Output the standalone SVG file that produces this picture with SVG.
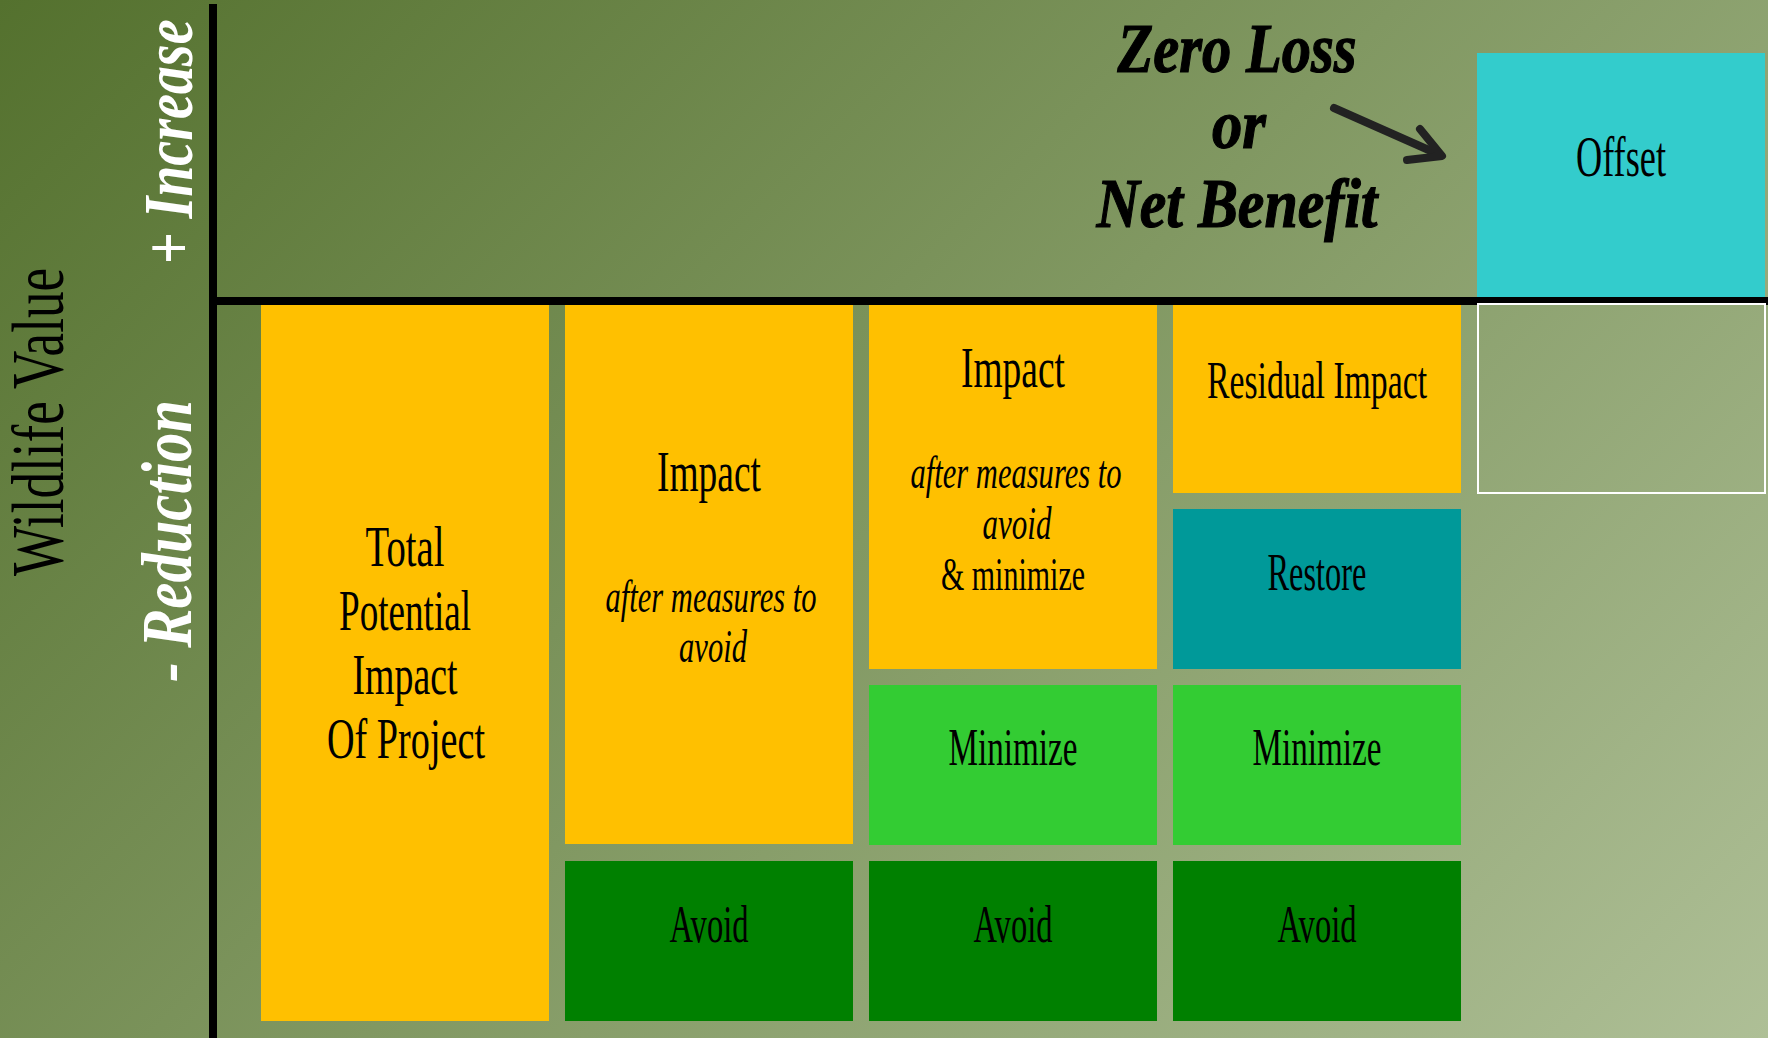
<svg xmlns="http://www.w3.org/2000/svg" width="1768" height="1038" viewBox="0 0 1768 1038">
<defs>
<linearGradient id="bg" gradientUnits="userSpaceOnUse" x1="0" y1="0" x2="1403" y2="1403">
<stop offset="0" stop-color="#54712e"/>
<stop offset="1" stop-color="#aebf96"/>
</linearGradient>
<style>
.t{font-family:"Liberation Serif","Times New Roman",serif;fill:#000;text-anchor:middle;}
.big{font-size:58px;}
.mid{font-size:52px;}
.it{font-size:46px;font-style:italic;}
.sm{font-size:46px;}
.bi{font-family:"Liberation Serif","Times New Roman",serif;font-weight:bold;font-style:italic;text-anchor:middle;}
.yel{fill:#FFC000;}
.dg{fill:#008000;}
.lg{fill:#33CC33;}
.teal{fill:#009999;}
.cyan{fill:#33CCCC;}
.axis{stroke:#000;stroke-width:8;fill:none;}
</style>
</defs>
<rect x="0" y="0" width="1768" height="1038" fill="url(#bg)"/>

<g id="axes">
<line class="axis" x1="213" y1="4" x2="213" y2="1038"/>
<line class="axis" x1="209" y1="301" x2="1768" y2="301"/>
</g>

<g id="axis-labels">
<text class="t" transform="translate(63,422) rotate(-90)" font-size="74" textLength="308" lengthAdjust="spacingAndGlyphs">Wildlife Value</text>
<text class="bi" transform="translate(191,541) rotate(-90)" font-size="72" fill="#fff" textLength="282" lengthAdjust="spacingAndGlyphs">- Reduction</text>
<text class="bi" transform="translate(192,142) rotate(-90) scale(0.8,1)" font-size="70" fill="#fff">+  Increase</text>
</g>

<g id="goal-label">
<text class="bi" x="1237" y="72" font-size="70" fill="#000" stroke="#000" stroke-width="1.2" textLength="239" lengthAdjust="spacingAndGlyphs">Zero Loss</text>
<text class="bi" x="1239" y="148" font-size="70" fill="#000" stroke="#000" stroke-width="1.2" textLength="54" lengthAdjust="spacingAndGlyphs">or</text>
<text class="bi" x="1237" y="227" font-size="70" fill="#000" stroke="#000" stroke-width="1.2" textLength="281" lengthAdjust="spacingAndGlyphs">Net Benefit</text>
</g>

<g id="connectors">
<line x1="1334" y1="108" x2="1440" y2="155" stroke="#222" stroke-width="8" stroke-linecap="round"/>
<polyline points="1420,129 1442,156 1407,160" fill="none" stroke="#222" stroke-width="8" stroke-linecap="round" stroke-linejoin="round"/>
</g>

<g id="offset">
<rect class="cyan" x="1477" y="53" width="288" height="244"/>
<text class="t big" x="1621" y="176" textLength="90" lengthAdjust="spacingAndGlyphs">Offset</text>
</g>

<g id="offset-placeholder">
<rect x="1478" y="304" width="287" height="189" fill="none" stroke="#fff" stroke-width="2"/>
</g>

<g id="total-impact">
<rect class="yel" x="261" y="305" width="288" height="716"/>
<text class="t big" x="405" y="566" textLength="79" lengthAdjust="spacingAndGlyphs">Total</text>
<text class="t big" x="405" y="630" textLength="132" lengthAdjust="spacingAndGlyphs">Potential</text>
<text class="t big" x="405" y="694" textLength="105" lengthAdjust="spacingAndGlyphs">Impact</text>
<text class="t big" x="406" y="758" textLength="158" lengthAdjust="spacingAndGlyphs">Of Project</text>
</g>

<g id="impact-after-avoid">
<rect class="yel" x="565" y="305" width="288" height="539"/>
<text class="t big" x="709" y="491" textLength="104" lengthAdjust="spacingAndGlyphs">Impact</text>
<text class="t it" x="711" y="612" textLength="211" lengthAdjust="spacingAndGlyphs">after measures to</text>
<text class="t it" x="713" y="662" textLength="68" lengthAdjust="spacingAndGlyphs">avoid</text>
</g>

<g id="avoid-1">
<rect class="dg" x="565" y="861" width="288" height="160"/>
<text class="t mid" x="709" y="942" textLength="79" lengthAdjust="spacingAndGlyphs">Avoid</text>
</g>

<g id="impact-after-avoid-minimize">
<rect class="yel" x="869" y="305" width="288" height="364"/>
<text class="t big" x="1013" y="387" textLength="104" lengthAdjust="spacingAndGlyphs">Impact</text>
<text class="t it" x="1016" y="488" textLength="211" lengthAdjust="spacingAndGlyphs">after measures to</text>
<text class="t it" x="1017" y="539" textLength="69" lengthAdjust="spacingAndGlyphs">avoid</text>
<text class="t sm" x="1013" y="590" textLength="144" lengthAdjust="spacingAndGlyphs">&amp; minimize</text>
</g>

<g id="minimize-1">
<rect class="lg" x="869" y="685" width="288" height="160"/>
<text class="t mid" x="1013" y="765" textLength="129" lengthAdjust="spacingAndGlyphs">Minimize</text>
</g>

<g id="avoid-2">
<rect class="dg" x="869" y="861" width="288" height="160"/>
<text class="t mid" x="1013" y="942" textLength="79" lengthAdjust="spacingAndGlyphs">Avoid</text>
</g>

<g id="residual-impact">
<rect class="yel" x="1173" y="305" width="288" height="188"/>
<text class="t mid" x="1317" y="398" textLength="220" lengthAdjust="spacingAndGlyphs">Residual Impact</text>
</g>

<g id="restore">
<rect class="teal" x="1173" y="509" width="288" height="160"/>
<text class="t mid" x="1317" y="590" textLength="99" lengthAdjust="spacingAndGlyphs">Restore</text>
</g>

<g id="minimize-2">
<rect class="lg" x="1173" y="685" width="288" height="160"/>
<text class="t mid" x="1317" y="765" textLength="129" lengthAdjust="spacingAndGlyphs">Minimize</text>
</g>

<g id="avoid-3">
<rect class="dg" x="1173" y="861" width="288" height="160"/>
<text class="t mid" x="1317" y="942" textLength="79" lengthAdjust="spacingAndGlyphs">Avoid</text>
</g>
</svg>
